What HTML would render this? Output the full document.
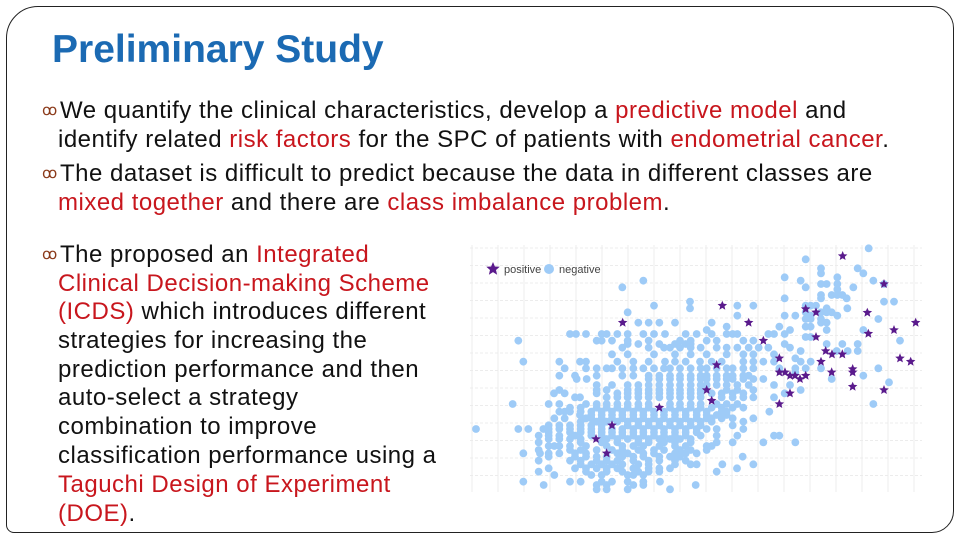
<!DOCTYPE html>
<html><head><meta charset="utf-8"><style>
body{margin:0;background:#fff;width:960px;height:540px;overflow:hidden;position:relative;font-family:"Liberation Sans",sans-serif}
.frame{position:absolute;left:6px;top:6px;width:946px;height:525px;border:1px solid #222;border-radius:32px 22px 22px 8px}
.t{position:absolute;white-space:nowrap;font-size:24px;letter-spacing:0.5px;color:#111;line-height:28px}
.r{color:#c8161d}
.b{position:absolute;font-size:15px;color:#8b3a1a;line-height:28px}
h1{position:absolute;left:52px;top:28px;margin:0;font-size:39px;font-weight:bold;color:#1b6ab3;line-height:44px}
</style></head><body>
<div class="frame"></div>
<h1>Preliminary Study</h1>
<span class="b" style="left:42px;top:97px">ꝏ</span>
<div class="t" style="left:60px;top:97px">We quantify the clinical characteristics, develop a <span class="r">predictive model</span> and</div>
<div class="t" style="left:58px;top:126px">identify related <span class="r">risk factors</span> for the SPC of patients with <span class="r">endometrial cancer</span>.</div>
<span class="b" style="left:42px;top:160px">ꝏ</span>
<div class="t" style="left:60px;top:160px">The dataset is difficult to predict because the data in different classes are</div>
<div class="t" style="left:58px;top:189px"><span class="r">mixed together</span> and there are <span class="r">class imbalance problem</span>.</div>
<span class="b" style="left:42px;top:241px">ꝏ</span>
<div class="t" style="left:60px;top:241px">The proposed an <span class="r">Integrated</span></div>
<div class="t r" style="left:58px;top:270px">Clinical Decision-making Scheme</div>
<div class="t" style="left:58px;top:298px"><span class="r">(ICDS)</span> which introduces different</div>
<div class="t" style="left:58px;top:327px">strategies for increasing the</div>
<div class="t" style="left:58px;top:356px">prediction performance and then</div>
<div class="t" style="left:58px;top:384px">auto-select a strategy</div>
<div class="t" style="left:58px;top:413px">combination to improve</div>
<div class="t" style="left:58px;top:442px">classification performance using a</div>
<div class="t r" style="left:58px;top:471px">Taguchi Design of Experiment</div>
<div class="t" style="left:58px;top:500px"><span class="r">(DOE)</span>.</div>
<svg id="chart" style="position:absolute;left:0;top:0" width="960" height="540"></svg>
<script>
const posX=[1148,1272,787,1037,1068,1222,488,866,1367,1302,1225,1068,910,1097,1116,1147,958,1320,1352,1083,770,958,975,990,1005,1020,1037,1115,1178,1178,740,1272,1178,990,755,958,598,456,408,440];
const posY=[63,147,212,222,232,233,263,263,263,285,296,306,317,348,358,358,370,370,380,380,390,412,412,422,422,432,422,412,402,412,465,465,455,475,497,507,518,571,612,655];
const negRowY=[40,73,100,115,127,137,147,157,163,180,190,200,212,220,232,242,252,263,275,285,297,306,317,327,338,348,358,370,380,400,412,422,432,442,450,465,475,487,507,518,530,540,550,560,571,582,592,602,612,622,633,645,655,665,677,688,700,710,720,740,750,763];
const negRowX=[[1226],[1037],[1083,1193],[1210,1083],[974,1132],[550,1022,1240],[1083,1100,1132,1272],[487,1037,1180],[1132],[1083,1115,1132,1147],[974,1160,1083],[690,1272,1302],[582,832,880,1037,1052,1068],[690,1162,1100],[503,1037,1083,1100,1115],[832,974,1006,1132,1052],[1037,1052,1083,1255],[535,566,598,645,755,1083,1100],[800,958,1037,1052],[740,990,1100,1210],
[330,348,378,425,440,472,503,550,582,615,677,710,755,800,818,832,925,942,974],[1037,1052],[175,410,425,456,503,566,660,692,740,770,850,880,1320],[503,535,598,645,677,692,1147,974,1100,1193],[487,566,612,630,660,692,722,770,800,832,866,896,925,990],[1022,1193,1163,1130],[456,503,582,645,692,740,800,850,880,942],[1006],
[190,298,360,378,472,520,566,615,645,677,720,755,785,850,880,910,942,1052,1022],[314,378,410,440,456,487,520,550,582,612,630,660,692,722,740,770,800,818,850,880,958,1006,1037,1083,1255],[1006],[298,345,410,487,520,566,598,630,660,692,722,740,770,800,818,850,866,1210],[350,380,566,598,630,660,692,722,740,770,800,818,850,880,910,1115],[1287],
[410,456,503,535,566,598,630,660,692,722,740,770,800,832,866,942,990],[298,410,440,503,535,566,598,630,660,692,722,800,832,880,1022],[282,314,410,472,503,535,566,598,630,660,692,722,755,785,818,850,974],[345,360,440,472,503,535,566,598,630,660,692,722,785,818,850,880,942],
[158,266,298,378,410,440,472,503,535,566,630,660,692,722,770,800,832,1240],[330,362,410,440,472,503,535,566,630,660,692,722,755,785,818,850],[298,314,330,362,394,425,456,487,520,550,582,612,645,677,710,740,785,800,928],[360,394,425,456,487,520,550,582,612,645,677,710,740,770,800],
[283,314,378,394,425,456,487,520,550,582,612,645,677,710,740,755,785,818,880],[362,410,440,472,503,535,566,598,630,660,692,722,755,850],[266,298,330,362,394,425,503,535,566,598,630,660,692,722,818],[48,175,205,250,266,298,330,362,394,425,456,487,520,550,582,612,645,677,710,740,770,850],
[266,330,362,394,425,456,487,520,550,582,612,645,677,710],[236,266,298,345,394,425,456,487,520,550,582,612,645,677,722,770,832,942,958],[266,298,330,362,440,472,503,535,566,598,630,660,692],[236,362,425,472,535,566,612,645,692,770,818,910,1006],
[266,283,298,330,378,440,487,520,550,598,645,677,740,755],[236,330,362,410,456,487,535,582,612,660,692,740],[190,240,266,298,345,378,472,503,550,582,645,677,710],[266,345,378,410,440,487,520,550,598,630,660,848],[236,330,362,410,440,472,520,566,598,645,677],
[362,394,425,456,487,535,566,645,692,710,787,880],[266,345,378,410,440,472,520,566,598,630,831],[236,378,440,487,535,566,598,770],[283,394,425,503,520,550],[190,330,362,425,456,503,550,600],[251,410,440,520,550,707],[410,440,503,630]];
const NS='http://www.w3.org/2000/svg';
const svg=document.getElementById('chart');
const xS=v=>460+v/3, yS=v=>235+v/3;
function mk(t,a){const e=document.createElementNS(NS,t);for(const k in a)e.setAttribute(k,a[k]);svg.appendChild(e);return e;}
for(let gx=472;gx<=922;gx+=26){const l=mk('line',{x1:gx,x2:gx,y1:245,y2:492,stroke:'#ececec','stroke-width':1});

}
for(let gy=248;gy<=492;gy+=17.5){const l=mk('line',{x1:470,x2:922,y1:gy,y2:gy,stroke:'#ececec','stroke-width':1,'stroke-dasharray':'3 2'});

}
function star(cx,cy,r){let p=[];for(let i=0;i<10;i++){const a=-Math.PI/2+i*Math.PI/5,rr=i%2?r*0.45:r;p.push((cx+rr*Math.cos(a)).toFixed(1)+','+(cy+rr*Math.sin(a)).toFixed(1));}return p.join(' ');}
negRowY.forEach((y,i)=>negRowX[i].forEach(x=>{const c=mk('circle',{cx:xS(x),cy:yS(y),r:3.9,fill:'#9ecbf7'});

}));
posX.forEach((x,i)=>{const s=mk('polygon',{points:star(xS(x),yS(posY[i]),5),fill:'#5a1a8c'});

});
const ls=mk('polygon',{points:star(493,269,7),fill:'#5a1a8c'});


const lt=mk('text',{x:504,y:273,'font-size':11,fill:'#444','font-family':'Liberation Sans, sans-serif'});lt.textContent='positive';


const lc=mk('circle',{cx:549,cy:269,r:5,fill:'#9ecbf7'});


const lt2=mk('text',{x:559,y:273,'font-size':11,fill:'#444','font-family':'Liberation Sans, sans-serif'});lt2.textContent='negative';


</script>
</body></html>
